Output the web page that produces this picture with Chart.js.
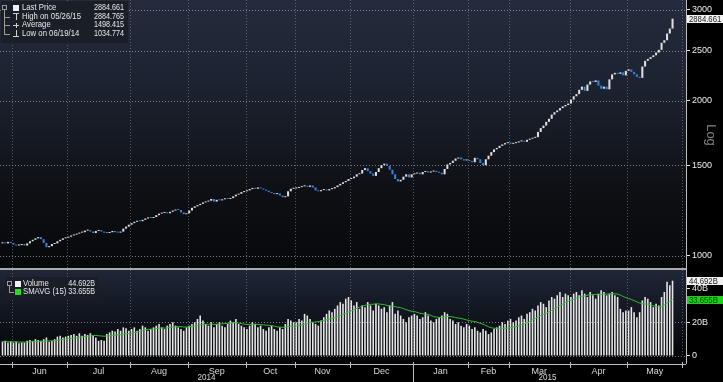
<!DOCTYPE html>
<html><head><meta charset="utf-8">
<script src="https://cdn.jsdelivr.net/npm/chart.js@4.4.1/dist/chart.umd.min.js"></script>
<style>html,body{margin:0;padding:0;background:#000;overflow:hidden}canvas{display:block}</style>
</head><body>
<canvas id="c" width="723" height="382"></canvas>
<script>
// ---------- DATA ----------
const monthNames = ['Jun','Jul','Aug','Sep','Oct','Nov','Dec','Jan','Feb','Mar','Apr','May'];
// index of first trading day of each month (last entry = first day of next June)
const monthStartIdx = [4,24,47,68,89,107,127,150,170,185,207,228,248];
const yearLabels = ['2014','2015'];
const yearFirstMonth = [0,7];          // month (index into monthNames) where each year starts
const priceTicks = [1000,1500,2000,2500,3000];
const volumeTicks = [0,20,40];

const closes = [
  1062,1058,1065,1060,
  1052,1048,1050,1055,1048,1058,1068,1075,1082,1088,1078,1060,1040,1045,1055,1058,1068,1075,1082,1085,
  1090,1096,1100,1105,1110,1112,1120,1122,1115,1108,1118,1122,1115,1110,1108,1112,1118,1112,1110,1115,1130,1140,1150,
  1158,1165,1170,1168,1175,1182,1188,1185,1190,1200,1208,1212,1215,1210,1218,1225,1230,1228,1215,1205,1210,
  1225,1240,1248,1255,1262,1270,1275,1280,1290,1275,1285,1282,1288,1292,1290,1295,1305,1315,1320,1330,1335,
  1340,1348,1355,1350,1358,1352,1345,1338,1330,1325,1318,1322,1310,1300,1305,1335,1350,1352,
  1355,1360,1365,1368,1362,1370,1358,1340,1335,1342,1345,1340,1348,1352,1360,1370,1380,1390,1398,1410,
  1415,1425,1440,1445,1468,1480,1460,1445,1430,1455,1480,1500,1510,1495,1470,1440,1410,1395,1405,1425,1440,1420,1440,
  1445,1450,1440,1455,1460,1452,1458,1462,1455,1450,1440,1475,1505,1515,1530,1545,1552,1540,1532,1535,
  1528,1520,1550,1540,1515,1500,1540,1565,1590,1610,1620,1635,1645,1655,1660,
  1650,1655,1660,1668,1672,1665,1680,1688,1695,1700,1740,1770,1790,1820,1845,1880,1900,1915,1935,1950,1962,1975,
  2010,2040,2060,2100,2130,2090,2150,2180,2175,2190,2140,2110,2130,2105,2200,2250,2265,2255,2270,2240,2285,
  2300,2275,2250,2225,2215,2330,2390,2410,2430,2450,2480,2510,2590,2620,2700,2760,2884.661
];
const opens = [
  1058,1062,1058,1065,
  1060,1052,1048,1050,1055,1048,1058,1068,1075,1082,1088,1078,1060,1040,1045,1055,1058,1068,1075,1082,
  1085,1090,1096,1100,1105,1110,1112,1120,1122,1115,1108,1118,1122,1115,1110,1108,1112,1118,1112,1110,1115,1130,1140,
  1150,1158,1165,1170,1168,1175,1182,1188,1185,1190,1200,1208,1212,1215,1210,1218,1225,1230,1228,1215,1205,
  1210,1225,1240,1248,1255,1262,1270,1275,1280,1290,1275,1285,1282,1288,1292,1290,1295,1305,1315,1320,1330,
  1335,1340,1348,1355,1350,1358,1352,1345,1338,1330,1325,1318,1322,1310,1300,1305,1335,1350,
  1352,1355,1360,1365,1368,1362,1370,1358,1340,1335,1342,1345,1340,1348,1352,1360,1370,1380,1390,1398,
  1410,1415,1425,1440,1445,1468,1480,1460,1445,1430,1455,1480,1500,1510,1495,1470,1440,1410,1395,1405,1425,1440,1420,
  1440,1445,1450,1440,1455,1460,1452,1458,1462,1455,1450,1440,1475,1505,1515,1530,1545,1552,1540,1532,
  1535,1528,1520,1550,1540,1515,1500,1540,1565,1590,1610,1620,1635,1645,1655,
  1660,1650,1655,1660,1668,1672,1665,1680,1688,1695,1700,1740,1770,1790,1820,1845,1880,1900,1915,1935,1950,1962,
  1975,2010,2040,2060,2100,2130,2090,2150,2180,2175,2190,2140,2110,2130,2105,2200,2250,2265,2255,2270,2240,
  2285,2300,2275,2250,2225,2215,2330,2390,2410,2430,2450,2480,2510,2590,2620,2700,2760
];
// volume in billions
const volumes = [
  8.5,9,8,8.5,
  8,8.5,7.5,8,8,9,9.5,9,10,9.5,9,10,11,8.5,9,10,11.5,12,11,11.5,
  12,12.5,13,12,13.5,12,13,12.5,13.5,12,11,9,9.5,9,13,14,15,14.5,16,15,17,16.5,15,
  16,17,15,16,18,17,15,16,17,18,19,17,16,18,19,20,18,17,16,15,17,
  18,19,20,22,24,21,19,18,20,17,19,20,18,17,19,21,20,22,19,18,17,
  16,18,20,19,17,18,16,15,17,18,16,15,17,16,19,22,21,20,
  20,22,21,25,24,22,20,19,18,21,23,25,27,26,28,30,32,31,34,35,
  33,30,32,28,30,29,32,30,27,31,30,28,29,26,30,32,25,27,24,22,20,23,24,
  25,24,22,23,26,24,21,20,22,23,24,26,25,22,21,19,20,18,17,19,
  18,16,17,15,14,16,15,13,14,16,17,18,20,19,21,
  22,20,21,23,24,22,25,26,28,27,30,32,31,29,33,35,34,36,38,35,37,36,
  35,37,38,36,39,37,35,38,36,34,37,39,38,36,37,38,36,35,28,26,27,
  27,29,26,23,26,33,35,34,32,29,31,30,35,38,44,42,44.692
];
const smaPeriod = 15;
const legendPrice = [['Last Price','2884.661'],['High on 05/26/15','2884.765'],['Average','1498.415'],['Low on 06/19/14','1034.774']];
const legendVolume = [['Volume','44.692B'],['SMAVG (15)','33.655B']];
const lastPriceLabel = '2884.661';
const lastVolumeLabel = '44.692B';
const lastSmaLabel = '33.655B';

// ---------- derived tables ----------
const sma = volumes.map((v,i)=>{const s=volumes.slice(Math.max(0,i-smaPeriod+1),i+1);return s.reduce((a,b)=>a+b,0)/s.length;});
const candleData = closes.map((c,i)=>({x:i,y:[opens[i],c]}));
const candleColors = closes.map((c,i)=> c>=opens[i] ? '#e0e0e0' : '#3b82d8');
const volData = volumes.map((v,i)=>({x:i,y:v}));
const smaData = sma.map((v,i)=>({x:i,y:v}));
const boundaries = monthStartIdx.map(v=>v-0.5);
const monthCenters = monthNames.map((m,k)=>(boundaries[k]+boundaries[k+1])/2);

const FONT = '"Liberation Sans", Arial, sans-serif';
const X_MIN = -0.9, X_MAX = 248.9;

function hline(ctx,x1,x2,y){ctx.beginPath();ctx.moveTo(x1,y);ctx.lineTo(x2,y);ctx.stroke();}
function vline(ctx,x,y1,y2){ctx.beginPath();ctx.moveTo(x,y1);ctx.lineTo(x,y2);ctx.stroke();}
// narrow text: same glyphs, horizontally condensed
function ntext(ctx,text,x,y,align,sx){
  ctx.save(); ctx.translate(x,y); ctx.scale(sx,1);
  ctx.textAlign=align; ctx.fillText(text,0,0); ctx.restore();
}

function badge(ctx, y, text, bg, fg){
  const yy = Math.round(y);
  ctx.fillStyle = bg;
  ctx.fillRect(687, yy-4, 36, 8);
  ctx.fillStyle = fg;
  ctx.font = '9px '+FONT;
  ctx.textBaseline='middle';
  ntext(ctx, text, 689, yy+0.5, 'left', 0.86);
}

const deco = {
  id:'deco',
  beforeDraw(chart){
    const {ctx, chartArea:a} = chart;
    const py = chart.scales.y, vy = chart.scales.yv;
    ctx.save();
    ctx.fillStyle='#000'; ctx.fillRect(0,0,chart.width,chart.height);
    let g = ctx.createLinearGradient(0,py.top,0,py.bottom);
    g.addColorStop(0,'#242b3c');
    g.addColorStop(0.3,'#1d2331');
    g.addColorStop(0.5,'#161a23');
    g.addColorStop(0.7,'#0e1015');
    g.addColorStop(1,'#07080a');
    ctx.fillStyle=g; ctx.fillRect(a.left,py.top,a.right-a.left,py.bottom-py.top);
    g = ctx.createLinearGradient(0,vy.top,0,vy.getPixelForValue(0));
    g.addColorStop(0,'#1f2637');
    g.addColorStop(1,'#040506');
    ctx.fillStyle=g; ctx.fillRect(a.left,vy.top,a.right-a.left,vy.bottom-vy.top);
    ctx.restore();
  },
  beforeDatasetsDraw(chart){
    const {ctx, chartArea:a} = chart;
    const x = chart.scales.x, py = chart.scales.y, vy = chart.scales.yv;
    ctx.save();
    ctx.lineWidth=1; ctx.setLineDash([1,2]);
    ctx.strokeStyle='rgba(160,165,175,0.75)';
    priceTicks.forEach(v=>hline(ctx,a.left,a.right,Math.round(py.getPixelForValue(v))+0.5));
    volumeTicks.filter(v=>v<40).forEach(v=>hline(ctx,a.left,a.right,Math.round(vy.getPixelForValue(v))+0.5));
    ctx.strokeStyle='rgba(130,135,145,0.6)';
    boundaries.forEach(b=>vline(ctx,Math.round(x.getPixelForValue(b))+0.5,a.top,vy.getPixelForValue(0)));
    ctx.restore();
  },
  afterDraw(chart){
    const {ctx, chartArea:a} = chart;
    const x = chart.scales.x, py = chart.scales.y, vy = chart.scales.yv;
    ctx.save();
    // panel separator
    ctx.fillStyle='#a8a8a8';
    ctx.fillRect(a.left, py.bottom-2, a.right-a.left, 2);
    // axis lines
    ctx.strokeStyle='#bdbdbd'; ctx.lineWidth=1; ctx.setLineDash([]);
    vline(ctx, a.right+0.5, a.top, a.bottom);
    hline(ctx, a.left, a.right, a.bottom+0.5);
    // month boundary ticks
    boundaries.forEach((b,k)=>{
      const px = Math.round(x.getPixelForValue(b))+0.5;
      const isYear = yearFirstMonth.includes(k) && k>0;
      vline(ctx, px, a.bottom-2, isYear ? chart.height : a.bottom+4);
    });
    // year labels (centred over the visible part of each year)
    ctx.fillStyle='#d8d8d8'; ctx.font='9px '+FONT; ctx.textBaseline='middle';
    yearLabels.forEach((yl,k)=>{
      const start = k===0 ? a.left : x.getPixelForValue(boundaries[yearFirstMonth[k]]);
      const end = k===yearLabels.length-1 ? x.getPixelForValue(boundaries[boundaries.length-1]) : x.getPixelForValue(boundaries[yearFirstMonth[k+1]]);
      ntext(ctx, yl, (start+end)/2, 378, 'center', 0.9);
    });
    // "Log"
    ctx.save();
    ctx.translate(711, 135); ctx.rotate(Math.PI/2);
    ctx.fillStyle='#808080'; ctx.font='13px '+FONT; ctx.textAlign='center'; ctx.textBaseline='middle';
    ctx.fillText('Log',0,0);
    ctx.restore();
    // badges
    badge(ctx, py.getPixelForValue(closes[closes.length-1]), lastPriceLabel, '#f2f2f2', '#1a1a1a');
    badge(ctx, vy.getPixelForValue(volumes[volumes.length-1]), lastVolumeLabel, '#f2f2f2', '#1a1a1a');
    badge(ctx, vy.getPixelForValue(sma[sma.length-1]), lastSmaLabel, '#19d219', '#0d3a0d');
    // price legend
    ctx.fillStyle='rgba(26,30,38,0.95)';
    ctx.fillRect(1,1,127,42);
    ctx.strokeStyle='#9a9a9a'; ctx.lineWidth=1;
    ctx.strokeRect(2.5,5.5,4,4);
    vline(ctx,4.5,10,34);
    [16.5,25,33.5].forEach(y=>hline(ctx,4,10,Math.round(y)+0.5));
    ctx.fillStyle='#f0f0f0'; ctx.fillRect(13,5,6,6);
    ctx.strokeStyle='#d0d0d0';
    hline(ctx,13,19,13.5); vline(ctx,16.5,13,20);
    hline(ctx,13,19,25.5); vline(ctx,16.5,23,28);
    hline(ctx,13,19,36.5); vline(ctx,16.5,30,36);
    ctx.fillStyle='#e6e6e6'; ctx.font='9px '+FONT; ctx.textBaseline='middle';
    legendPrice.forEach((r,k)=>{
      const y=[8,16.5,25,33.5][k];
      ntext(ctx, r[0], 22, y, 'left', 0.86);
      ntext(ctx, r[1], 124, y, 'right', 0.8);
    });
    // volume legend
    ctx.fillStyle='rgba(26,30,38,0.95)';
    ctx.fillRect(5,277,93,22);
    ctx.strokeStyle='#9a9a9a';
    ctx.strokeRect(7.5,281.5,4,4);
    vline(ctx,9.5,286,293); hline(ctx,9,14,292.5);
    ctx.fillStyle='#f0f0f0'; ctx.fillRect(15,281,6,6);
    ctx.fillStyle='#1ee01e'; ctx.fillRect(15,289,6,6);
    ctx.fillStyle='#e6e6e6';
    legendVolume.forEach((r,k)=>{
      const y=[284,292][k];
      ntext(ctx, r[0], 23, y, 'left', 0.86);
      ntext(ctx, r[1], 95, y, 'right', 0.8);
    });
    ctx.restore();
  }
};

new Chart(document.getElementById('c'), {
  type:'bar',
  data:{datasets:[
    {type:'line', label:'SMAVG (15)', data:smaData, xAxisID:'x', yAxisID:'yv', borderColor:'#35b935', borderWidth:1, pointRadius:0, tension:0, order:0},
    {type:'bar', label:'Last Price', data:candleData, xAxisID:'x', yAxisID:'y', backgroundColor:candleColors, grouped:false, categoryPercentage:1, barPercentage:0.74, minBarLength:1, order:1},
    {type:'bar', label:'Volume', data:volData, xAxisID:'x', yAxisID:'yv', backgroundColor:'#e6e6e6', grouped:false, categoryPercentage:1, barPercentage:0.58, order:2}
  ]},
  options:{
    responsive:false, animation:false, devicePixelRatio:1,
    layout:{padding:0},
    plugins:{legend:{display:false}, tooltip:{enabled:false}},
    scales:{
      x:{type:'linear', position:'bottom', min:X_MIN, max:X_MAX, offset:false,
        grid:{display:false, drawTicks:false, offset:false}, border:{display:false},
        afterBuildTicks:s=>{s.ticks=monthCenters.map(v=>({value:v}));},
        afterFit:s=>{s.height=18; s.paddingLeft=0; s.paddingRight=0;},
        ticks:{autoSkip:false, maxRotation:0, padding:2, color:'#d8d8d8', font:{family:FONT,size:9},
          callback:(v,i)=>monthNames[i]}
      },
      y:{type:'logarithmic', position:'right', stack:'panels', stackWeight:270, min:939.4, max:3135.6,
        grid:{display:true, drawOnChartArea:false, drawTicks:true, tickLength:4, color:'#e6e6e6'},
        border:{display:false},
        afterBuildTicks:s=>{s.ticks=priceTicks.map(v=>({value:v}));},
        afterFit:s=>{s.width=37; s.paddingTop=0; s.paddingBottom=0;},
        ticks:{padding:2, color:'#ececec', font:{family:FONT,size:9}, callback:v=>String(v)}
      },
      yv:{type:'linear', position:'right', stack:'panels', stackWeight:94, min:-4.75, max:51.04,
        grid:{display:true, drawOnChartArea:false, drawTicks:true, tickLength:4, color:'#e6e6e6'},
        border:{display:false},
        afterBuildTicks:s=>{s.ticks=volumeTicks.map(v=>({value:v}));},
        afterFit:s=>{s.width=37; s.paddingTop=0; s.paddingBottom=0;},
        ticks:{padding:2, color:'#ececec', font:{family:FONT,size:9}, callback:v=>v===0?'0':v+'B'}
      }
    }
  },
  plugins:[deco]
});
</script>
</body></html>
